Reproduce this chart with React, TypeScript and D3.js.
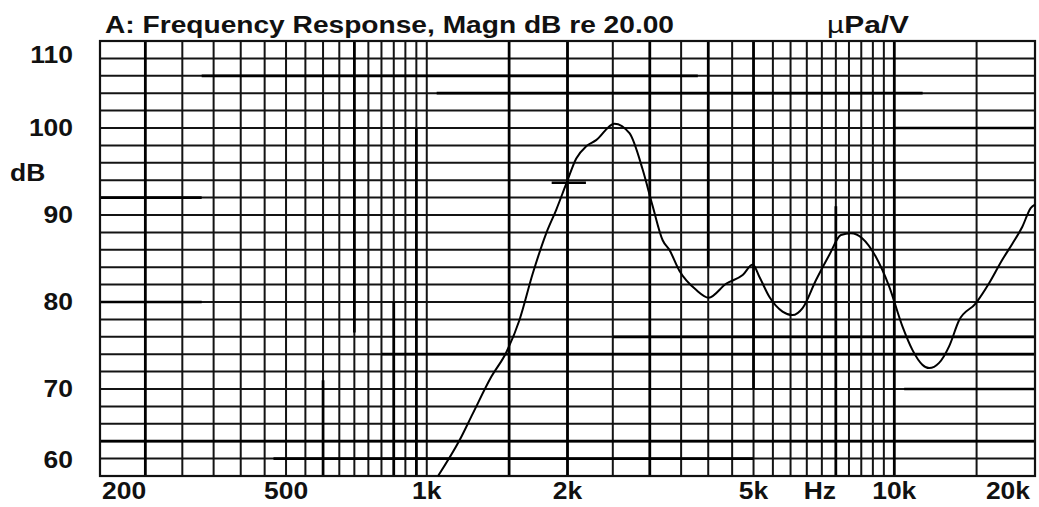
import React, { useEffect, useRef } from 'react'
import * as d3 from 'd3'

const freqs = [1057, 1175, 1255, 1374, 1479, 1578, 1686, 1801, 1892, 1988, 2088, 2193, 2303, 2520, 2714, 2897, 3043, 3196, 3303, 3470, 3768, 4009, 4366, 4740, 4980, 5145, 5404, 5768, 6058, 6366, 6798, 7260, 7690, 8075, 8548, 9131, 9750, 10410, 10934, 11483, 11872, 12470, 13100, 13763, 14940, 15950, 17000, 17890, 18790, 19580, 20000]
const levels = [60, 64.1, 67.2, 71.4, 74.2, 77.9, 83.3, 87.9, 90.6, 93.6, 96.5, 97.9, 98.6, 100.5, 99.4, 95.2, 91.0, 87.1, 86.0, 83.6, 81.4, 80.5, 82.1, 83.1, 84.3, 82.9, 80.6, 78.9, 78.5, 79.3, 82.5, 85.4, 87.7, 87.9, 87.3, 85.2, 81.8, 77.2, 74.5, 72.8, 72.4, 73.0, 74.9, 77.9, 79.85, 82.15, 84.8, 86.7, 88.65, 90.8, 91.2]

const yTicks = [60, 70, 80, 90, 100, 110]
const xTickFreqs = [200, 500, 1000, 2000, 5000, 10000, 20000]
const xTickLabels = ['200', '500', '1k', '2k', '5k', '10k', '20k']

const gridFreqs = [...d3.range(250, 1001, 50), ...d3.range(1500, 10001, 500), 15000]
const gridLevels = d3.range(62, 110, 2)

// darker (over-inked) pieces of the printed grid
const heavyFreqs = [250, 700, 850, 950, 600, 1500, 2000, 3000, 4000, 5000, 7500, 10000]
const heavyFreqSpans = [[60, 110], [76.5, 110], [60, 80], [60, 100], [60, 71], [60, 110], [60, 110], [60, 110], [84, 110], [70, 110], [60, 91], [60, 110]]
const heavyLevels = [106, 104, 100, 92, 80, 74, 76, 70, 64, 62]
const heavyLevelSpans = [[330, 3800], [1050, 11500], [10000, 20000], [200, 330], [200, 330], [800, 20000], [2500, 20000], [10500, 20000], [200, 20000], [470, 5000]]

const cursorLevel = 93.7
const cursorSpan = [1850, 2190]

export default function App() {
    const svgRef = useRef<SVGSVGElement>(null)

    let width = 1039
    let height = 507
    let font = 'Liberation Sans, Arial, sans-serif'

    useEffect(() => {
        let svg = d3.select(svgRef.current)
        svg.selectAll('*').remove()

        let x = d3.scaleLog().domain([200, 20000]).range([100, 1035])
        let y = d3.scaleLinear().domain([60, 110]).range([476, 41])

        svg.append('rect').attr('width', width).attr('height', height).attr('fill', '#fff')

        let grid = svg.append('g').attr('stroke', '#141414').attr('stroke-width', 2)
        grid.selectAll('line.v').data(gridFreqs).enter().append('line')
            .attr('class', 'v')
            .attr('x1', d => x(d)).attr('x2', d => x(d))
            .attr('y1', y(110)).attr('y2', y(60))
        grid.selectAll('line.h').data(gridLevels).enter().append('line')
            .attr('class', 'h')
            .attr('x1', x(200)).attr('x2', x(20000))
            .attr('y1', d => y(d)).attr('y2', d => y(d))

        let heavy = svg.append('g').attr('stroke', '#000').attr('stroke-width', 2.7)
        heavy.selectAll('line.v').data(heavyFreqs).enter().append('line')
            .attr('class', 'v')
            .attr('x1', d => x(d)).attr('x2', d => x(d))
            .attr('y1', (d, i) => y(heavyFreqSpans[i][1])).attr('y2', (d, i) => y(heavyFreqSpans[i][0]))
        heavy.selectAll('line.h').data(heavyLevels).enter().append('line')
            .attr('class', 'h')
            .attr('x1', (d, i) => x(heavyLevelSpans[i][0])).attr('x2', (d, i) => x(heavyLevelSpans[i][1]))
            .attr('y1', d => y(d)).attr('y2', d => y(d))

        svg.append('rect')
            .attr('x', x(200)).attr('y', y(110))
            .attr('width', x(20000) - x(200)).attr('height', y(60) - y(110))
            .attr('fill', 'none').attr('stroke', '#111').attr('stroke-width', 2.2)

        let line = d3.line<number>()
            .x((d, i) => x(freqs[i]))
            .y(d => y(d))
            .curve(d3.curveMonotoneX)

        svg.append('path')
            .attr('d', line(levels))
            .attr('fill', 'none')
            .attr('stroke', '#000')
            .attr('stroke-width', 2)

        svg.append('line')
            .attr('x1', x(cursorSpan[0])).attr('x2', x(cursorSpan[1]))
            .attr('y1', y(cursorLevel)).attr('y2', y(cursorLevel))
            .attr('stroke', '#000').attr('stroke-width', 2.5)

        let stretch = 1.15
        let label = (text: string, px: number, py: number, anchor: string) => {
            svg.append('text')
                .attr('transform', `translate(${px},${py}) scale(${stretch},1)`)
                .attr('text-anchor', anchor)
                .attr('font-family', font)
                .attr('font-weight', 'bold')
                .attr('font-size', 23)
                .attr('fill', '#111')
                .text(text)
        }

        yTicks.forEach(t => {
            let cy = Math.min(Math.max(y(t), 55), 460)
            label(String(t), 73, cy + 8, 'end')
        })
        label('dB', 10, 181, 'start')

        xTickFreqs.forEach((f, i) => {
            let anchor = i === 0 ? 'start' : i === xTickFreqs.length - 1 ? 'end' : 'middle'
            let px = i === 0 ? x(f) + 2 : i === xTickFreqs.length - 1 ? x(f) - 5 : x(f)
            label(xTickLabels[i], px, 499, anchor)
        })
        label('Hz', (x(5000) + x(10000)) / 2 - 4, 499, 'middle')

        svg.append('text')
            .attr('x', 105).attr('y', 33)
            .attr('font-family', font).attr('font-weight', 'bold').attr('font-size', 23)
            .attr('textLength', 569).attr('lengthAdjust', 'spacingAndGlyphs')
            .attr('fill', '#111')
            .text('A: Frequency Response, Magn dB re 20.00')

        let unit = svg.append('text')
            .attr('x', 827).attr('y', 33)
            .attr('font-family', font).attr('font-size', 23)
            .attr('textLength', 82).attr('lengthAdjust', 'spacingAndGlyphs')
            .attr('fill', '#111')
        unit.append('tspan').attr('font-weight', 'normal').text('µ')
        unit.append('tspan').attr('font-weight', 'bold').text('Pa/V')
    }, [])

    return (
        <svg
            ref={svgRef}
            width={width}
            height={height}
            style={{ position: 'absolute', left: 0, top: 0, display: 'block' }}
        />
    )
}
